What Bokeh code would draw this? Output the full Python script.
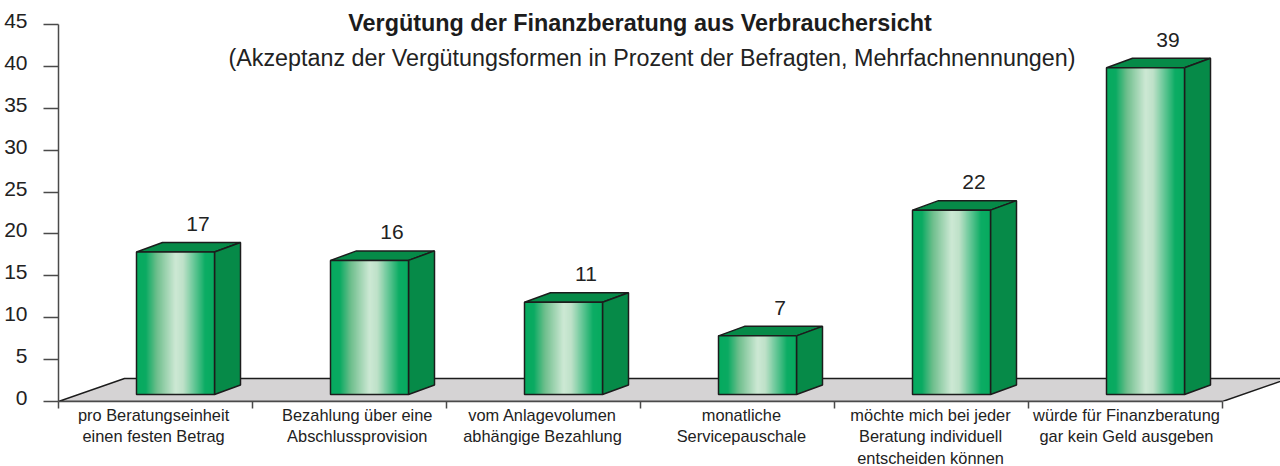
from bokeh.embed import file_html
from bokeh.resources import INLINE
from bokeh.plotting import figure
from bokeh.models import Range1d, LinearAxis, FixedTicker, Label
from bokeh.core.properties import value

categories = [
    "pro Beratungseinheit\neinen festen Betrag",
    "Bezahlung über eine\nAbschlussprovision",
    "vom Anlagevolumen\nabhängige Bezahlung",
    "monatliche\nServicepauschale",
    "möchte mich bei jeder\nBeratung individuell\nentscheiden können",
    "würde für Finanzberatung\ngar kein Geld ausgeben",
]
values = [17, 16, 11, 7, 22, 39]
y_ticks = list(range(0, 50, 5))
title_text = "Vergütung der Finanzberatung aus Verbrauchersicht"
subtitle_text = "(Akzeptanz der Vergütungsformen in Prozent der Befragten, Mehrfachnennungen)"
label_positions = [0.49, 1.54, 2.495, 3.52, 4.495, 5.505]

PX_X = 194.0
PX_Y = 8.38
FONT = "Liberation Sans"
INK = "#1c1c1c"
TEXT = "#222222"
AXIS = "#4a4a4a"
FACE_SIDE = "#068a48"
FLOOR = "#d5d3d4"
GRAD = [(0.0, (6, 170, 95)), (0.12, (10, 170, 98)), (0.26, (110, 190, 140)),
        (0.50, (205, 232, 212)), (0.60, (190, 225, 200)), (0.88, (12, 172, 100)),
        (1.0, (6, 170, 95))]

W_FRAME, H_FRAME = 1222, 393
p = figure(width=1280, height=466, output_backend="svg", toolbar_location=None,
           x_range=Range1d(0, W_FRAME / PX_X), y_range=Range1d(0, H_FRAME / PX_Y),
           frame_width=W_FRAME, frame_height=H_FRAME, x_axis_location=None, y_axis_location=None,
           min_border_left=58, min_border_right=0, min_border_top=8, min_border_bottom=65,
           background_fill_color="white", border_fill_color="white", outline_line_color=None)
p.grid.visible = False

n = len(values)
dx, dy = 26 / PX_X, 9.5 / PX_Y
floor_dx, floor_dy = 66 / PX_X, 23 / PX_Y
p.patch([0, floor_dx, n + floor_dx, n], [0, floor_dy, floor_dy, 0], fill_color=FLOOR,
        line_color=INK, line_width=1.5)

def grad_colour(t):
    for (a, ca), (b, cb) in zip(GRAD, GRAD[1:]):
        if t <= b:
            f = (t - a) / (b - a)
            return "#%02x%02x%02x" % tuple(round(u + (v - u) * f) for u, v in zip(ca, cb))
    return "#%02x%02x%02x" % GRAD[-1][1]

BAR_W = 78 / PX_X
BAR_OFFSET = 78 / PX_X
BASE = 7 / PX_Y
STEPS = 78
for i, v in enumerate(values):
    x0 = i + BAR_OFFSET
    x1 = x0 + BAR_W
    top = v + BASE
    p.patch([x0, x0 + dx, x1 + dx, x1], [top, top + dy, top + dy, top],
            fill_color=FACE_SIDE, line_color=INK, line_width=1.5)
    p.patch([x1, x1 + dx, x1 + dx, x1], [BASE, BASE + dy, top + dy, top],
            fill_color=FACE_SIDE, line_color=INK, line_width=1.5)
    lefts = [x0 + BAR_W * k / STEPS for k in range(STEPS)]
    p.quad(left=lefts, right=[x1] * STEPS, bottom=[BASE] * STEPS, top=[top] * STEPS,
           fill_color=[grad_colour((k + 0.5) / STEPS) for k in range(STEPS)], line_color=None)
    p.quad(left=[x0], right=[x1], bottom=[BASE], top=[top], fill_color=None,
           line_color=INK, line_width=1.5)

p.text(x=[i + BAR_OFFSET + (BAR_W + dx) / 2 + 9.5 / PX_X for i in range(n)],
       y=[v + BASE + dy for v in values], text=[str(v) for v in values], y_offset=-11.5,
       text_font=value(FONT), text_font_size="21px", text_color=TEXT,
       text_align="center", text_baseline="bottom")

yax = LinearAxis(ticker=FixedTicker(ticks=y_ticks), bounds=(0, 45))
yax.axis_line_color = AXIS
yax.axis_line_width = 1.5
yax.major_tick_line_color = AXIS
yax.major_tick_line_width = 1.5
yax.major_tick_in = 0
yax.major_tick_out = 15
yax.minor_tick_line_color = None
yax.major_label_text_font_size = "0px"
yax.major_label_standoff = 0
yax.major_label_overrides = {t: "" for t in y_ticks}
p.add_layout(yax, "left")

LABEL_SHIFT = 3.5 / PX_Y
p.extra_y_ranges["labels"] = Range1d(-LABEL_SHIFT, H_FRAME / PX_Y - LABEL_SHIFT)
ylab = LinearAxis(ticker=FixedTicker(ticks=y_ticks), y_range_name="labels")
ylab.axis_line_color = None
ylab.major_tick_line_color = None
ylab.minor_tick_line_color = None
ylab.major_label_standoff = 10
ylab.major_label_text_font = FONT
ylab.major_label_text_font_size = "21px"
ylab.major_label_text_color = TEXT
p.add_layout(ylab, "left")

xax = LinearAxis(ticker=FixedTicker(ticks=list(range(n + 1))), bounds=(0, n))
xax.axis_line_color = AXIS
xax.axis_line_width = 1.5
xax.major_tick_line_color = AXIS
xax.major_tick_line_width = 1.5
xax.major_tick_in = 0
xax.major_tick_out = 7
xax.minor_tick_line_color = None
xax.major_label_text_font_size = "0px"
xax.major_label_standoff = 0
xax.major_label_overrides = {i: "" for i in range(n + 1)}
p.add_layout(xax, "below")

cax = LinearAxis(ticker=FixedTicker(ticks=label_positions))
cax.axis_line_color = None
cax.major_tick_line_color = None
cax.minor_tick_line_color = None
cax.major_label_standoff = -9
cax.major_label_text_font = FONT
cax.major_label_text_font_size = "16.4px"
cax.major_label_text_color = TEXT
cax.major_label_text_line_height = 1.22
cax.major_label_overrides = {pos: c for pos, c in zip(label_positions, categories)}
p.add_layout(cax, "below")

p.add_layout(Label(x=581.5, y=379, x_units="screen", y_units="screen", text=title_text,
                   text_font=FONT, text_font_style="bold", text_font_size="23.4px", text_color=INK,
                   text_align="center", text_baseline="middle"))
p.add_layout(Label(x=593.5, y=344, x_units="screen", y_units="screen", text=subtitle_text,
                   text_font=FONT, text_font_size="23.3px", text_color=TEXT,
                   text_align="center", text_baseline="middle"))
open("out.html", "w").write(file_html(p, INLINE))
